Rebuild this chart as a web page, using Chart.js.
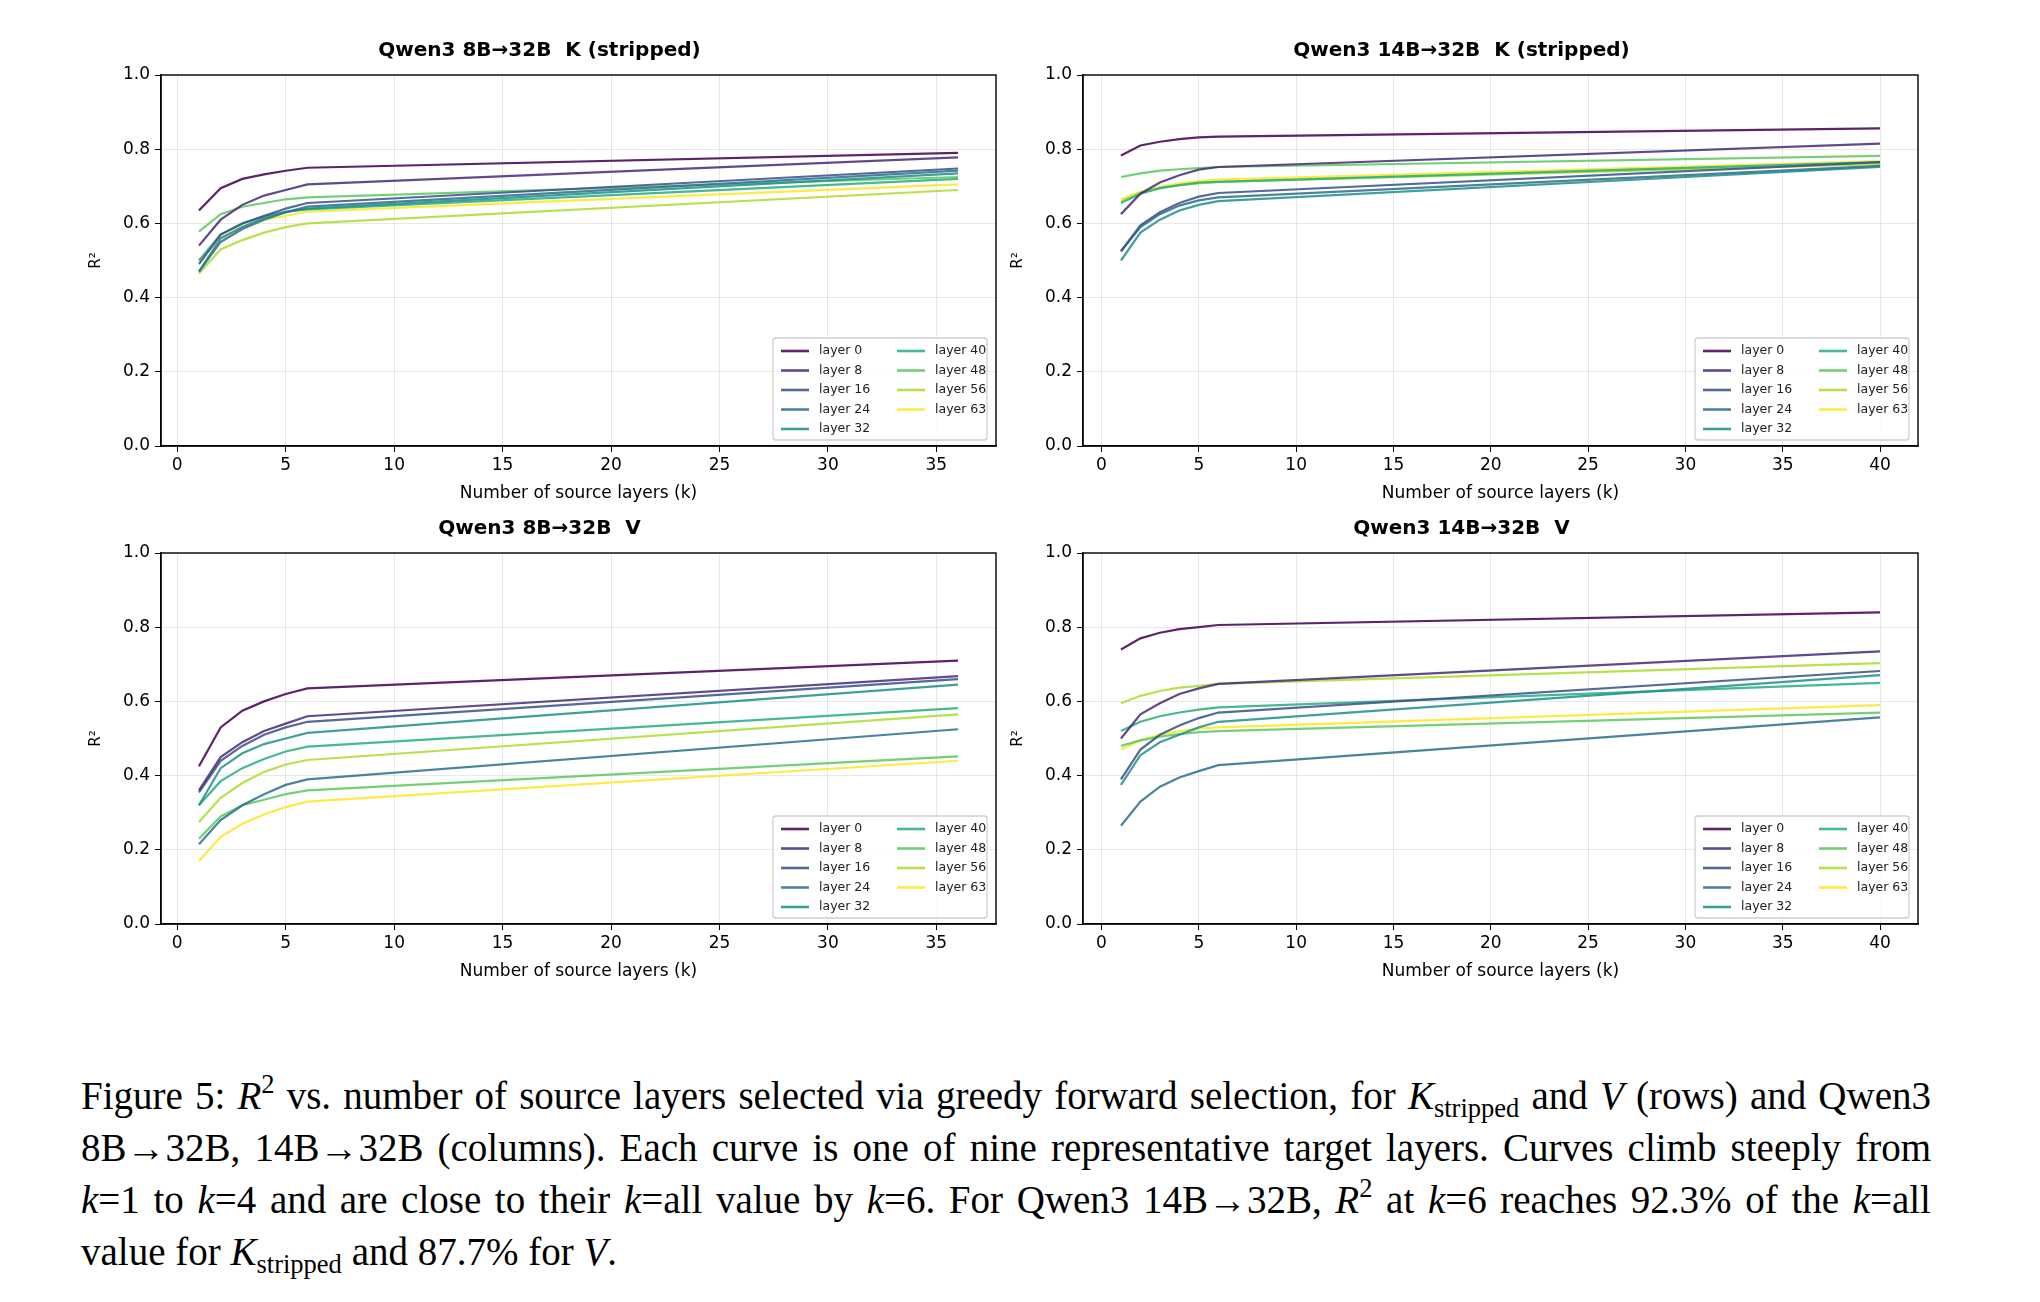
<!DOCTYPE html>
<html>
<head>
<meta charset="utf-8">
<script src="https://cdn.jsdelivr.net/npm/chart.js@4.4.1/dist/chart.umd.min.js"></script>
<style>
  body { margin: 0; background: #fff; width: 2040px; height: 1302px; position: relative; overflow: hidden; }
  canvas { position: absolute; }
  #caption { position: absolute; left: 81px; top: 1070px; width: 1850px; font-family: "Liberation Serif", "DejaVu Serif", serif;
    font-size: 39px; line-height: 52px; text-align: justify; text-align-last: left; color: #000; }
  #caption i { font-style: italic; }
  sub { font-size: 0.68em; vertical-align: -0.3em; line-height: 0; }
  sup { font-size: 0.68em; vertical-align: 0.6em; line-height: 0; }
</style>
</head>
<body>
<canvas id="c_tl"></canvas>
<canvas id="c_tr"></canvas>
<canvas id="c_bl"></canvas>
<canvas id="c_br"></canvas>
<div id="caption">Figure 5: <i>R</i><sup>2</sup> vs. number of source layers selected via greedy forward selection, for <i>K</i><sub>stripped</sub> and <i>V</i> (rows) and Qwen3 8B&rarr;32B, 14B&rarr;32B (columns). Each curve is one of nine representative target layers. Curves climb steeply from <i>k</i>=1 to <i>k</i>=4 and are close to their <i>k</i>=all value by <i>k</i>=6. For Qwen3 14B&rarr;32B, <i>R</i><sup>2</sup> at <i>k</i>=6 reaches 92.3% of the <i>k</i>=all value for <i>K</i><sub>stripped</sub> and 87.7% for <i>V</i>.</div>
<script>
// Gemeinsame Daten
var layers = ['layer 0', 'layer 8', 'layer 16', 'layer 24', 'layer 32', 'layer 40', 'layer 48', 'layer 56', 'layer 63'];
var colors = ['#440154', '#472d7b', '#3b528b', '#2c728e', '#21918c', '#28ae80', '#5ec962', '#addc30', '#fde725'];
var k8 = [1, 2, 3, 4, 5, 6, 36];
var k14 = [1, 2, 3, 4, 5, 6, 40];

// Qwen3 8B->32B K (stripped)
var r2_8b_k = [
    [0.635, 0.695, 0.72, 0.732, 0.742, 0.75, 0.79],
    [0.54, 0.61, 0.65, 0.675, 0.69, 0.705, 0.778],
    [0.49, 0.57, 0.60, 0.62, 0.64, 0.655, 0.748],
    [0.47, 0.55, 0.585, 0.61, 0.63, 0.645, 0.742],
    [0.47, 0.56, 0.59, 0.615, 0.63, 0.64, 0.735],
    [0.50, 0.57, 0.60, 0.62, 0.632, 0.638, 0.72],
    [0.578, 0.625, 0.645, 0.655, 0.665, 0.67, 0.725],
    [0.465, 0.53, 0.555, 0.575, 0.59, 0.60, 0.69],
    [0.50, 0.56, 0.59, 0.61, 0.62, 0.632, 0.705]
];
// Qwen3 14B->32B K (stripped)
var r2_14b_k = [
    [0.783, 0.81, 0.82, 0.827, 0.832, 0.834, 0.856],
    [0.625, 0.68, 0.71, 0.73, 0.745, 0.752, 0.815],
    [0.525, 0.595, 0.63, 0.655, 0.672, 0.682, 0.765],
    [0.525, 0.59, 0.625, 0.648, 0.662, 0.67, 0.755],
    [0.50, 0.575, 0.61, 0.635, 0.65, 0.66, 0.752],
    [0.655, 0.68, 0.695, 0.703, 0.71, 0.712, 0.765],
    [0.725, 0.735, 0.742, 0.746, 0.749, 0.752, 0.782],
    [0.66, 0.683, 0.695, 0.703, 0.708, 0.712, 0.76],
    [0.665, 0.685, 0.698, 0.708, 0.714, 0.718, 0.768]
];
// Qwen3 8B->32B V
var r2_8b_v = [
    [0.425, 0.53, 0.575, 0.60, 0.62, 0.635, 0.71],
    [0.36, 0.45, 0.49, 0.52, 0.54, 0.56, 0.668],
    [0.355, 0.44, 0.48, 0.51, 0.53, 0.545, 0.66],
    [0.215, 0.28, 0.32, 0.35, 0.375, 0.39, 0.525],
    [0.32, 0.42, 0.46, 0.485, 0.50, 0.515, 0.645],
    [0.32, 0.385, 0.42, 0.445, 0.465, 0.478, 0.582],
    [0.23, 0.29, 0.32, 0.335, 0.35, 0.36, 0.452],
    [0.275, 0.34, 0.38, 0.41, 0.43, 0.442, 0.565],
    [0.17, 0.235, 0.27, 0.295, 0.315, 0.33, 0.44]
];
// Qwen3 14B->32B V
var r2_14b_v = [
    [0.74, 0.77, 0.785, 0.795, 0.80, 0.806, 0.84],
    [0.50, 0.565, 0.595, 0.62, 0.635, 0.647, 0.735],
    [0.39, 0.47, 0.51, 0.535, 0.555, 0.57, 0.682],
    [0.265, 0.33, 0.37, 0.395, 0.412, 0.428, 0.557],
    [0.375, 0.455, 0.49, 0.51, 0.53, 0.545, 0.671],
    [0.52, 0.545, 0.56, 0.57, 0.578, 0.584, 0.65],
    [0.48, 0.495, 0.505, 0.512, 0.517, 0.52, 0.57],
    [0.595, 0.615, 0.628, 0.637, 0.642, 0.647, 0.703],
    [0.47, 0.495, 0.51, 0.52, 0.527, 0.53, 0.59]
];

var FONT = 'DejaVu Sans';
var Y_W = 78, X_H = 62, TITLE_H = 36, PAD_R = 6;

// Legende in zwei Spalten unten rechts im Plot
var innerLegend = {
    id: 'innerLegend',
    afterDraw: function (chart) {
        var a = chart.chartArea, ctx = chart.ctx;
        var w = 214, h = 102;
        var x0 = a.right - 9 - w, y0 = a.bottom - 6 - h;
        ctx.save();
        ctx.fillStyle = 'rgba(255,255,255,0.8)';
        ctx.strokeStyle = '#d0d0d0';
        ctx.lineWidth = 1.3;
        ctx.beginPath();
        ctx.roundRect(x0, y0, w, h, 3);
        ctx.fill();
        ctx.stroke();
        ctx.font = '12.5px ' + FONT;
        ctx.textBaseline = 'middle';
        chart.data.datasets.forEach(function (ds, i) {
            var col = i < 5 ? 0 : 1, row = i < 5 ? i : i - 5;
            var lx = x0 + 8 + col * 116, ly = y0 + 13 + row * 19.5;
            ctx.strokeStyle = ds.borderColor;
            ctx.lineWidth = 2.6;
            ctx.beginPath();
            ctx.moveTo(lx, ly);
            ctx.lineTo(lx + 28, ly);
            ctx.stroke();
            ctx.fillStyle = '#222';
            ctx.fillText(ds.label, lx + 38, ly);
        });
        ctx.restore();
    }
};

function makeChart(id, title, ks, series, left, top, plotW, plotH, xMin, xMax) {
    var canvas = document.getElementById(id);
    var w = Y_W + plotW + PAD_R, h = TITLE_H + plotH + X_H;
    canvas.style.left = (left - Y_W) + 'px';
    canvas.style.top = (top - TITLE_H) + 'px';
    canvas.width = w;
    canvas.height = h;
    canvas.style.width = w + 'px';
    canvas.style.height = h + 'px';

    var datasets = series.map(function (vals, i) {
        return {
            label: layers[i],
            data: vals.map(function (v, j) { return { x: ks[j], y: v }; }),
            borderColor: colors[i] + 'dd',
            borderWidth: 2.2,
            pointRadius: 0,
            tension: 0,
            fill: false
        };
    });

    new Chart(canvas.getContext('2d'), {
        type: 'line',
        data: { datasets: datasets },
        options: {
            responsive: false,
            animation: false,
            layout: { padding: { top: 0, right: PAD_R, bottom: 0, left: 0 } },
            plugins: {
                legend: { display: false },
                tooltip: { enabled: false },
                title: {
                    display: true,
                    text: title,
                    color: '#000',
                    font: { family: FONT, size: 20, weight: 'bold', lineHeight: 1.2 },
                    padding: { top: 0, bottom: 12 }
                }
            },
            scales: {
                x: {
                    type: 'linear',
                    min: xMin,
                    max: xMax,
                    afterBuildTicks: function (ax) {
                        var t = [];
                        for (var v = 0; v <= xMax; v += 5) { t.push({ value: v }); }
                        ax.ticks = t;
                    },
                    afterFit: function (ax) { ax.height = X_H; },
                    grid: { color: 'rgba(0,0,0,0.09)', tickColor: '#000', tickLength: 6 },
                    border: { color: '#000', width: 1.4 },
                    ticks: { color: '#000', font: { family: FONT, size: 17 }, maxRotation: 0, padding: 3 },
                    title: { display: true, text: 'Number of source layers (k)', color: '#000', font: { family: FONT, size: 17 }, padding: { top: 2 } }
                },
                y: {
                    min: 0,
                    max: 1,
                    afterFit: function (ax) { ax.width = Y_W; },
                    grid: { color: 'rgba(0,0,0,0.09)', tickColor: '#000', tickLength: 6 },
                    border: { color: '#000', width: 1.4 },
                    ticks: {
                        stepSize: 0.2,
                        color: '#000',
                        font: { family: FONT, size: 17 },
                        padding: 5,
                        callback: function (v) { return v.toFixed(1); }
                    },
                    title: { display: true, text: 'R²', color: '#000', font: { family: FONT, size: 15 }, padding: { bottom: 4 } }
                }
            }
        },
        plugins: [innerLegend, {
            id: 'frame',
            afterDraw: function (chart) {
                var a = chart.chartArea, ctx = chart.ctx;
                ctx.save();
                ctx.strokeStyle = '#000';
                ctx.lineWidth = 1.4;
                ctx.strokeRect(a.left, a.top, a.right - a.left, a.bottom - a.top);
                ctx.restore();
            }
        }]
    });
}

var PW = 835, PH = 371;
makeChart('c_tl', 'Qwen3 8B→32B  K (stripped)', k8, r2_8b_k, 161, 75, PW, PH, -0.75, 37.75);
makeChart('c_tr', 'Qwen3 14B→32B  K (stripped)', k14, r2_14b_k, 1083, 75, PW, PH, -0.95, 41.95);
makeChart('c_bl', 'Qwen3 8B→32B  V', k8, r2_8b_v, 161, 553, PW, PH, -0.75, 37.75);
makeChart('c_br', 'Qwen3 14B→32B  V', k14, r2_14b_v, 1083, 553, PW, PH, -0.95, 41.95);
</script>
</body>
</html>
